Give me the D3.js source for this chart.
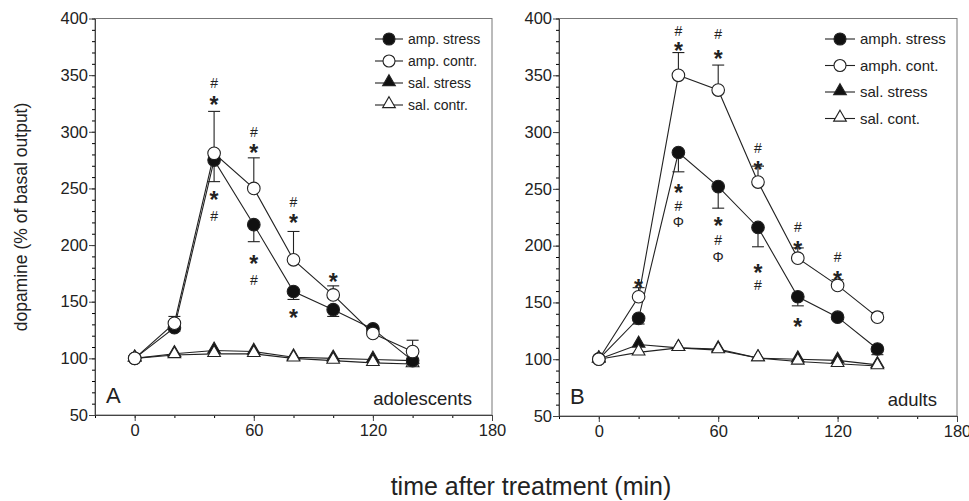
<!DOCTYPE html>
<html>
<head>
<meta charset="utf-8">
<script src="https://cdn.jsdelivr.net/npm/d3@7"></script>
<style>
  body { margin: 0; background: #fff; }
  svg { font-family: "Liberation Sans", Arial, sans-serif; }
</style>
</head>
<body>
<script>
// sampling times (min)
const times = [0, 20, 40, 60, 80, 100, 120, 140];

// panel A - adolescents
const adoAmpStress = [100, 127, 275, 218, 159, 143, 126, 98];
const adoAmpStressErr = [0, 3, 19, 15, 7, 6, 3, 3];     // drawn downward
const adoAmpContr = [100, 131, 281, 250, 187, 156, 122, 106];
const adoAmpContrErr = [0, 6, 37, 27, 25, 8, 2, 10];    // drawn upward
const adoSalStress = [100, 104, 107, 106, 101, 100, 99, 98];
const adoSalContr = [100, 103, 104, 104, 100, 98, 96, 95];

// panel B - adults
const adAmphStress = [100, 136, 282, 252, 216, 155, 137, 109];
const adAmphStressErr = [0, 5, 17, 19, 17, 8, 2, 5];
const adAmphCont = [100, 155, 350, 337, 256, 189, 165, 137];
const adAmphContErr = [0, 8, 20, 22, 14, 9, 5, 4];
const adSalStress = [100, 113, 110, 109, 101, 100, 99, 95];
const adSalCont = [100, 106, 110, 108, 101, 98, 96, 94];

// significance marks [time, value, symbol]
const adoMarks = [
  [40, 343, "#"], [40, 328, "*"], [40, 244, "*"], [40, 226, "#"],
  [60, 300, "#"], [60, 286, "*"], [60, 188, "*"], [60, 169, "#"],
  [80, 238, "#"], [80, 224, "*"], [80, 140, "*"],
  [100, 172, "*"]
];
const adMarks = [
  [20, 167, "*"],
  [40, 389, "#"], [40, 376, "*"], [40, 251, "*"], [40, 235, "#"], [40, 221, "Φ"],
  [60, 386, "#"], [60, 369, "*"], [60, 222, "*"], [60, 205, "#"], [60, 190, "Φ"],
  [80, 286, "#"], [80, 271, "*"], [80, 180, "*"], [80, 165, "#"],
  [100, 216, "#"], [100, 201, "*"], [100, 133, "*"],
  [120, 190, "#"], [120, 174, "*"]
];

const yTicks = [50, 100, 150, 200, 250, 300, 350, 400];
const xTicks = [0, 60, 120, 180];

const W = 969, H = 501;
const svg = d3.select("body").append("svg").attr("width", W).attr("height", H);

const tri = d3.symbol().type(d3.symbolTriangle).size(70);

function drawPanel(p) {
  const x = d3.scaleLinear().domain([-20, 180]).range([p.left, p.right]);
  const y = d3.scaleLinear().domain([50, 400]).range([p.bottom, p.top]);
  const g = svg.append("g");

  // frame (top and right)
  g.append("rect")
    .attr("x", p.left).attr("y", p.top)
    .attr("width", p.right - p.left).attr("height", p.bottom - p.top)
    .attr("fill", "none").attr("stroke", "#777").attr("stroke-width", 1);

  // minor ticks
  g.append("g").attr("transform", `translate(${p.left},0)`)
    .call(d3.axisLeft(y).tickValues(d3.range(50, 401, 10)).tickSize(3).tickFormat(""))
    .call(a => a.select(".domain").remove());
  g.append("g").attr("transform", `translate(0,${p.bottom})`)
    .call(d3.axisBottom(x).tickValues(d3.range(-20, 181, 20)).tickSize(3).tickFormat(""))
    .call(a => a.select(".domain").remove());

  // major axes
  const ya = g.append("g").attr("transform", `translate(${p.left},0)`)
    .call(d3.axisLeft(y).tickValues(yTicks).tickSize(6).tickSizeOuter(0).tickPadding(1));
  const xa = g.append("g").attr("transform", `translate(0,${p.bottom})`)
    .call(d3.axisBottom(x).tickValues(xTicks).tickSize(6).tickSizeOuter(0).tickPadding(3));
  [ya, xa].forEach(a => {
    a.attr("font-size", 16.5).attr("font-family", "Liberation Sans, Arial, sans-serif");
    a.selectAll("text").attr("fill", "#222");
    a.selectAll("line,path").attr("stroke", "#444");
  });

  const line = d3.line().x((d, i) => x(times[i])).y(d => y(d));

  // series draw order: triangles first, then circles
  p.series.forEach(s => {
    g.append("path").datum(s.values)
      .attr("fill", "none").attr("stroke", "#222").attr("stroke-width", 1.1)
      .attr("d", line);
  });

  p.series.forEach(s => {
    if (s.err) {
      const dir = s.errDir;
      s.values.forEach((v, i) => {
        const e = s.err[i];
        if (!e) return;
        const end = v + dir * e;
        g.append("line").attr("x1", x(times[i])).attr("x2", x(times[i]))
          .attr("y1", y(v)).attr("y2", y(end)).attr("stroke", "#222").attr("stroke-width", 1.1);
        g.append("line").attr("x1", x(times[i]) - 6).attr("x2", x(times[i]) + 6)
          .attr("y1", y(end)).attr("y2", y(end)).attr("stroke", "#222").attr("stroke-width", 1.1);
      });
    }
    const fill = s.filled ? "#111" : "#fff";
    if (s.shape === "circle") {
      g.selectAll(null).data(s.values).enter().append("circle")
        .attr("cx", (d, i) => x(times[i])).attr("cy", d => y(d)).attr("r", 6.3)
        .attr("fill", fill).attr("stroke", "#222").attr("stroke-width", 1.1);
    } else {
      g.selectAll(null).data(s.values).enter().append("path")
        .attr("d", tri)
        .attr("transform", (d, i) => `translate(${x(times[i])},${y(d) - 1})`)
        .attr("fill", fill).attr("stroke", "#222").attr("stroke-width", 1.1);
    }
  });

  // significance marks
  p.marks.forEach(m => {
    const big = m[2] === "*";
    g.append("text")
      .attr("x", x(m[0])).attr("y", y(m[1]) + (big ? 13 : 5))
      .attr("text-anchor", "middle")
      .attr("font-size", big ? 23 : 14)
      .attr("font-weight", big ? "bold" : "normal")
      .attr("fill", "#222")
      .text(m[2]);
  });

  // legend
  p.series.slice().sort((a, b) => a.legendRow - b.legendRow).forEach(s => {
    const ly = p.legend.y + s.legendRow * p.legend.dy;
    const lx = p.legend.x;
    g.append("line").attr("x1", lx).attr("x2", lx + p.legend.len)
      .attr("y1", ly).attr("y2", ly).attr("stroke", "#222").attr("stroke-width", 1.1);
    const cx = lx + p.legend.len / 2;
    const fill = s.filled ? "#111" : "#fff";
    if (s.shape === "circle") {
      g.append("circle").attr("cx", cx).attr("cy", ly).attr("r", 6)
        .attr("fill", fill).attr("stroke", "#222").attr("stroke-width", 1.1);
    } else {
      g.append("path").attr("d", tri).attr("transform", `translate(${cx},${ly - 1})`)
        .attr("fill", fill).attr("stroke", "#222").attr("stroke-width", 1.1);
    }
    g.append("text").attr("x", lx + p.legend.len + 5).attr("y", ly + 5)
      .attr("font-size", p.legend.fs).attr("fill", "#222").text(s.name);
  });

  // panel letter and group label
  g.append("text").attr("x", p.left + 11).attr("y", p.bottom - 12)
    .attr("font-size", 22).attr("fill", "#222").text(p.letter);
  g.append("text").attr("x", p.right - 20).attr("y", p.bottom - 10)
    .attr("text-anchor", "end").attr("font-size", 18.5).attr("fill", "#222").text(p.group);
}

drawPanel({
  left: 95, right: 492, top: 18.5, bottom: 415,
  letter: "A", group: "adolescents",
  legend: { x: 375, y: 39, dy: 22, len: 28, fs: 14 },
  marks: adoMarks,
  series: [
    { name: "sal.  stress", values: adoSalStress, shape: "tri", filled: true, legendRow: 2 },
    { name: "sal.  contr.", values: adoSalContr, shape: "tri", filled: false, legendRow: 3 },
    { name: "amp. stress", values: adoAmpStress, err: adoAmpStressErr, errDir: -1, shape: "circle", filled: true, legendRow: 0 },
    { name: "amp. contr.", values: adoAmpContr, err: adoAmpContrErr, errDir: 1, shape: "circle", filled: false, legendRow: 1 }
  ]
});

drawPanel({
  left: 559, right: 957, top: 18.5, bottom: 416,
  letter: "B", group: "adults",
  legend: { x: 825, y: 39, dy: 26.5, len: 30, fs: 15 },
  marks: adMarks,
  series: [
    { name: "sal. stress", values: adSalStress, shape: "tri", filled: true, legendRow: 2 },
    { name: "sal. cont.", values: adSalCont, shape: "tri", filled: false, legendRow: 3 },
    { name: "amph. stress", values: adAmphStress, err: adAmphStressErr, errDir: -1, shape: "circle", filled: true, legendRow: 0 },
    { name: "amph. cont.", values: adAmphCont, err: adAmphContErr, errDir: 1, shape: "circle", filled: false, legendRow: 1 }
  ]
});

// axis titles
svg.append("text")
  .attr("transform", "translate(27,217) rotate(-90)")
  .attr("text-anchor", "middle").attr("font-size", 17.5).attr("fill", "#222")
  .text("dopamine (% of basal output)");
svg.append("text")
  .attr("x", 531).attr("y", 495)
  .attr("text-anchor", "middle").attr("font-size", 25).attr("fill", "#222")
  .text("time after treatment (min)");
</script>
</body>
</html>
